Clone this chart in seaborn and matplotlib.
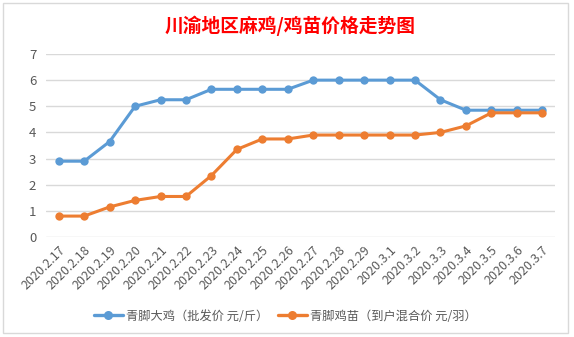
import matplotlib
matplotlib.use("Agg")
import matplotlib.pyplot as plt
import seaborn as sns
import pandas as pd
from matplotlib.patches import Rectangle
from matplotlib.lines import Line2D

dates = ["2020.2.17", "2020.2.18", "2020.2.19", "2020.2.20", "2020.2.21", "2020.2.22",
         "2020.2.23", "2020.2.24", "2020.2.25", "2020.2.26", "2020.2.27", "2020.2.28",
         "2020.2.29", "2020.3.1", "2020.3.2", "2020.3.3", "2020.3.4", "2020.3.5",
         "2020.3.6", "2020.3.7"]
broiler = [2.9, 2.9, 3.65, 5.0, 5.25, 5.25, 5.65, 5.65, 5.65, 5.65, 6.0, 6.0,
           6.0, 6.0, 6.0, 5.25, 4.85, 4.85, 4.85, 4.85]
chick = [0.8, 0.8, 1.15, 1.4, 1.55, 1.55, 2.35, 3.35, 3.75, 3.75, 3.9, 3.9,
         3.9, 3.9, 3.9, 4.0, 4.25, 4.75, 4.75, 4.75]
series_names = ["青脚大鸡（批发价 元/斤）", "青脚鸡苗（到户混合价 元/羽）"]
title = "川渝地区麻鸡/鸡苗价格走势图"
colors = ["#5B9BD5", "#ED7D31"]

sns.set_theme(style="white")
plt.rcParams['font.family'] = ['Noto Sans CJK SC', 'DejaVu Sans']

n = len(dates)
df = pd.DataFrame({
    "x": list(range(n)) * 2,
    "value": broiler + chick,
    "series": [series_names[0]] * n + [series_names[1]] * n,
})

fig = plt.figure(figsize=(5.74, 3.37), dpi=100)
fig.patch.set_facecolor("white")
# chart area border
fig.add_artist(Rectangle((3 / 574, 4 / 337), 565 / 574, 330 / 337, transform=fig.transFigure,
                         fill=False, edgecolor="#D9D9D9", linewidth=1.0))

ax = fig.add_axes([46 / 574, 100 / 337, 509 / 574, 183 / 337])
sns.lineplot(data=df, x="x", y="value", hue="series", palette=colors, marker="o",
             markersize=6, linewidth=2.2, markeredgewidth=0, ax=ax, legend=False)

ax.set_xlim(-0.5, n - 0.5)
ax.set_ylim(0, 7)
ax.set_yticks(range(0, 8))
ax.yaxis.grid(True, color="#D9D9D9", linewidth=1.0)
ax.set_axisbelow(True)
for s in ax.spines.values():
    s.set_visible(False)
ax.set_xlabel("")
ax.set_ylabel("")
ax.set_xticks(range(n))
ax.set_xticklabels(dates, rotation=45, ha="right", rotation_mode="anchor",
                   fontsize=9, color="#595959")
ax.tick_params(axis="x", length=0, pad=5)
ax.tick_params(axis="y", length=0, pad=7, labelsize=9.5, labelcolor="#595959")

fig.text(0.505, 0.925, title, ha="center", va="center", fontsize=13.5,
         fontweight="bold", color="#FF0000")

handles = [Line2D([0], [0], color=c, marker="o", markersize=6.5, linewidth=2.4,
                  markeredgewidth=0) for c in colors]
fig.legend(handles, series_names, loc="center", bbox_to_anchor=(0.497, 0.062),
           ncol=2, frameon=False, fontsize=8.8, handlelength=2.4,
           columnspacing=0.75, handletextpad=0.25, labelcolor="#595959")

fig.savefig("out.png", dpi=100, facecolor="white")
